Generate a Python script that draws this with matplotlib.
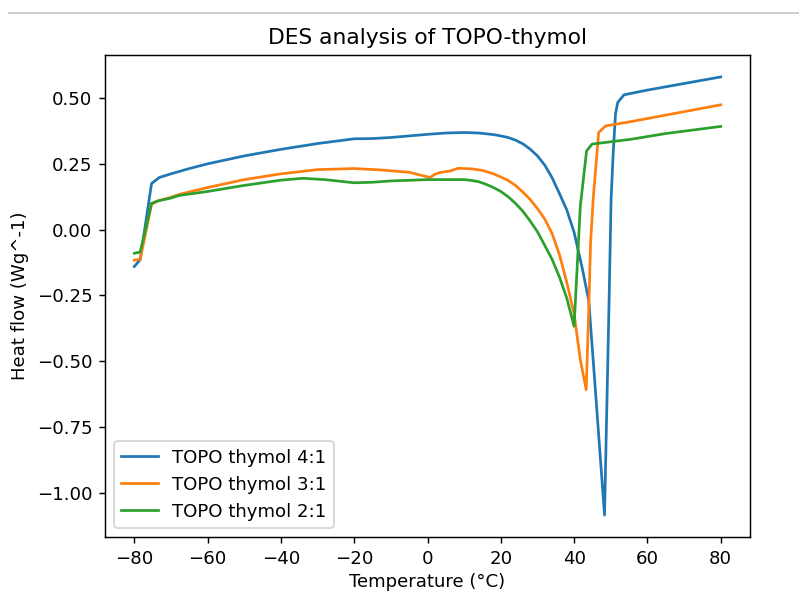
import numpy as np
import matplotlib.pyplot as plt
from matplotlib.lines import Line2D

# TOPO thymol 4:1
t_41 = [-80, -78.4, -75.3, -73.2, -70, -65, -60, -50, -40, -30, -20, -15, -10, -5, 0, 5, 10, 14,
        18, 20, 22, 24, 26, 28, 30, 32, 34, 36, 38, 40, 42.2, 44, 45.6, 48.3, 49.5, 50.1, 50.7,
        51.3, 51.9, 53.6, 60, 70, 80]
hf_41 = [-0.14, -0.114, 0.175, 0.198, 0.212, 0.232, 0.25, 0.28, 0.305, 0.327, 0.345, 0.346, 0.35,
         0.356, 0.362, 0.367, 0.369, 0.367, 0.361, 0.356, 0.35, 0.34, 0.326, 0.306, 0.28, 0.245,
         0.197, 0.137, 0.075, -0.01, -0.145, -0.27, -0.57, -1.084, -0.30, 0.12, 0.30, 0.44, 0.483,
         0.512, 0.53, 0.555, 0.58]

# TOPO thymol 3:1
t_31 = [-80, -78.4, -75.3, -73.6, -70, -67.7, -60, -50, -40, -30, -20, -13, -5, 0.7, 2.0, 3.4,
        6.2, 8.4, 12, 15, 18, 20, 22, 24, 26, 28, 30, 32, 34, 36, 38, 40, 41.7, 43.3, 44.0, 44.5,
        45.2, 46.7, 48.6, 55.4, 65, 80]
hf_31 = [-0.116, -0.113, 0.096, 0.109, 0.123, 0.134, 0.16, 0.19, 0.212, 0.228, 0.232, 0.227,
         0.218, 0.198, 0.21, 0.217, 0.223, 0.233, 0.231, 0.225, 0.212, 0.2, 0.187, 0.168, 0.143,
         0.115, 0.08, 0.04, -0.015, -0.095, -0.2, -0.32, -0.494, -0.608, -0.303, -0.05, 0.115,
         0.369, 0.394, 0.41, 0.435, 0.474]

# TOPO thymol 2:1
t_21 = [-80, -78.4, -75.3, -73.6, -70, -67.7, -60, -50, -40, -34, -28, -20, -15, -10, 0, 10,
        12, 14, 16, 18, 20, 22, 24, 26, 28, 30, 32, 34, 36, 38, 40.0, 41.7, 43.4, 44.9, 55.4,
        65, 80]
hf_21 = [-0.09, -0.085, 0.1, 0.109, 0.12, 0.13, 0.145, 0.168, 0.188, 0.195, 0.19, 0.178, 0.18,
         0.185, 0.19, 0.19, 0.187, 0.182, 0.172, 0.16, 0.145, 0.125, 0.1, 0.07, 0.033, -0.008,
         -0.06, -0.113, -0.18, -0.26, -0.367, 0.09, 0.299, 0.325, 0.343, 0.365, 0.392]

dpi = 130.6
fig = plt.figure(figsize=(799 / dpi, 591 / dpi), dpi=dpi)
ax = fig.add_axes([0.1314, 0.0914, 0.8073, 0.8155])

ax.plot(t_41, hf_41, label='TOPO thymol 4:1')
ax.plot(t_31, hf_31, label='TOPO thymol 3:1')
ax.plot(t_21, hf_21, label='TOPO thymol 2:1')

ax.set_title('DES analysis of TOPO-thymol')
ax.set_xlabel('Temperature (°C)', labelpad=3)
ax.set_ylabel('Heat flow (Wg^-1)')
ax.legend(loc='lower left')

# thin grey rule at the top of the screenshot
fig.add_artist(Line2D([0.011, 1.0], [1 - 13 / 591] * 2, color='#c8c8c8', lw=1))

fig.savefig('out.png', dpi=dpi)
